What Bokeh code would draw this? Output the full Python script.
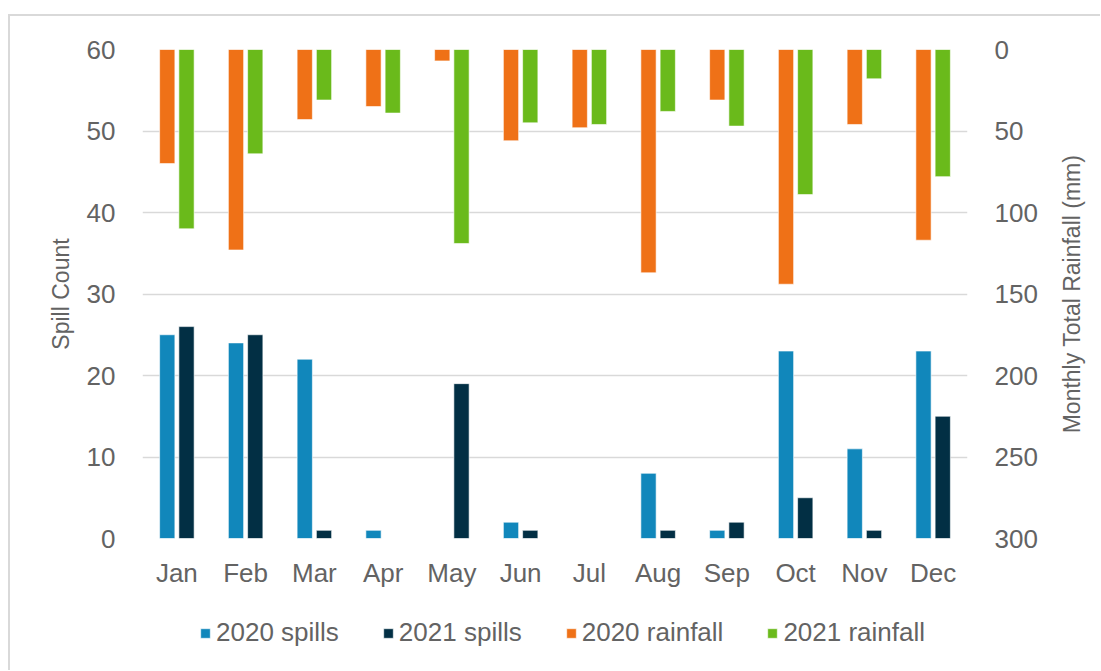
from bokeh.plotting import figure
from bokeh.layouts import column, row
from bokeh.models import Range1d, LinearAxis, FixedTicker, Legend, LegendItem, ColumnDataSource
from bokeh.transform import dodge
from bokeh.embed import file_html
from bokeh.resources import INLINE

months = ["Jan", "Feb", "Mar", "Apr", "May", "Jun", "Jul", "Aug", "Sep", "Oct", "Nov", "Dec"]
spills_2020 = [25, 24, 22, 1, 0, 2, 0, 8, 1, 23, 11, 23]
spills_2021 = [26, 25, 1, 0, 19, 1, 0, 1, 2, 5, 1, 15]
rain_2020 = [70, 123, 43, 35, 7, 56, 48, 137, 31, 144, 46, 117]
rain_2021 = [110, 64, 31, 39, 119, 45, 46, 38, 47, 89, 18, 78]
left_ticks = [0, 10, 20, 30, 40, 50, 60]
right_ticks = [0, 50, 100, 150, 200, 250, 300]
series_names = ["2020 spills", "2021 spills", "2020 rainfall", "2021 rainfall"]

C_S20 = "#1187BB"
C_S21 = "#022F44"
C_R20 = "#EF7117"
C_R21 = "#6ABA1B"
FONT = "Liberation Sans"
GRAY = "#636363"

src = ColumnDataSource(dict(month=months, s20=spills_2020, s21=spills_2021,
                            r20=rain_2020, r21=rain_2021, zero=[0] * 12))

W = 0.222
OFF = 0.14


def add_bars(fig):
    rs = []
    rs.append(fig.vbar(x=dodge("month", -OFF, range=fig.x_range), top="s20", bottom="zero", width=W,
                       source=src, fill_color=C_S20, line_color="white", line_width=0.6))
    rs.append(fig.vbar(x=dodge("month", OFF, range=fig.x_range), top="s21", bottom="zero", width=W,
                       source=src, fill_color=C_S21, line_color="white", line_width=0.6))
    rs.append(fig.vbar(x=dodge("month", -OFF, range=fig.x_range), top="zero", bottom="r20", width=W,
                       source=src, fill_color=C_R20, line_color="white", line_width=0.6,
                       y_range_name="rain"))
    rs.append(fig.vbar(x=dodge("month", OFF, range=fig.x_range), top="zero", bottom="r21", width=W,
                       source=src, fill_color=C_R21, line_color="white", line_width=0.6,
                       y_range_name="rain"))
    return rs


def style_axis(ax):
    ax.axis_line_color = None
    ax.major_tick_line_color = None
    ax.minor_tick_line_color = None
    ax.major_label_text_font = FONT
    ax.major_label_text_font_size = "26px"
    ax.major_label_text_color = GRAY
    ax.axis_label_text_font = FONT
    ax.axis_label_text_font_size = "23px"
    ax.axis_label_text_color = GRAY
    ax.axis_label_text_font_style = "normal"


MAIN_W = 1045
p = figure(x_range=months, y_range=Range1d(0, 60), width=MAIN_W, height=584,
           output_backend="svg", toolbar_location=None,
           min_border_left=132, min_border_right=88, min_border_top=33, min_border_bottom=62)
p.extra_y_ranges = {"rain": Range1d(300, 0)}
p.outline_line_color = None
p.background_fill_color = "white"
p.border_fill_color = "white"
add_bars(p)

p.xgrid.grid_line_color = None
p.ygrid.grid_line_color = "#d9d9d9"
p.ygrid.grid_line_width = 1.5
p.ygrid.ticker = FixedTicker(ticks=left_ticks)

xa = p.xaxis[0]
style_axis(xa)
xa.major_label_standoff = 13

ya = p.yaxis[0]
style_axis(ya)
ya.ticker = FixedTicker(ticks=left_ticks)
ya.axis_label = "Spill Count"
ya.major_label_standoff = 21
ya.axis_label_standoff = 10

ra = LinearAxis(y_range_name="rain", ticker=FixedTicker(ticks=right_ticks))
style_axis(ra)
ra.major_label_standoff = 21
p.add_layout(ra, "right")

# narrow strip to the right holding the rainfall axis title (reads bottom to top)
tfig = figure(x_range=Range1d(0, 1), y_range=p.y_range, width=45, height=584,
              output_backend="svg", toolbar_location=None,
              x_axis_type=None, y_axis_type=None,
              min_border_left=20, min_border_right=0, min_border_top=33, min_border_bottom=62)
tfig.outline_line_color = None
tax = LinearAxis(ticker=FixedTicker(ticks=[]), axis_label="Monthly Total Rainfall (mm)")
style_axis(tax)
tax.axis_label_standoff = 0
tfig.add_layout(tax, "left")

# legend strip below the chart (its bars lie outside its view; only the legend shows)
leg = figure(x_range=months, y_range=Range1d(1000, 1001), width=MAIN_W, height=70,
             output_backend="svg", toolbar_location=None,
             x_axis_type=None, y_axis_type=None, min_border=0)
leg.extra_y_ranges = {"rain": Range1d(1000, 1001)}
leg.outline_line_color = None
leg.grid.visible = False
leg_renderers = add_bars(leg)
items = [LegendItem(label=n, renderers=[r]) for n, r in zip(series_names, leg_renderers)]
legend = Legend(items=items, orientation="horizontal", location=(57, 22))
legend.border_line_color = None
legend.background_fill_alpha = 0
legend.padding = 0
legend.margin = 0
legend.spacing = 43
legend.glyph_width = 12
legend.glyph_height = 12
legend.label_standoff = 5
legend.label_text_font = FONT
legend.label_text_font_size = "26px"
legend.label_text_color = GRAY
leg.add_layout(legend, "center")

layout = row(column(p, leg, spacing=0), tfig, spacing=0)
layout.styles = {"border-top": "2px solid #d9d9d9", "border-left": "2px solid #d9d9d9",
                 "margin-top": "14px", "margin-left": "8px"}

open("out.html", "w").write(file_html(layout, INLINE))
